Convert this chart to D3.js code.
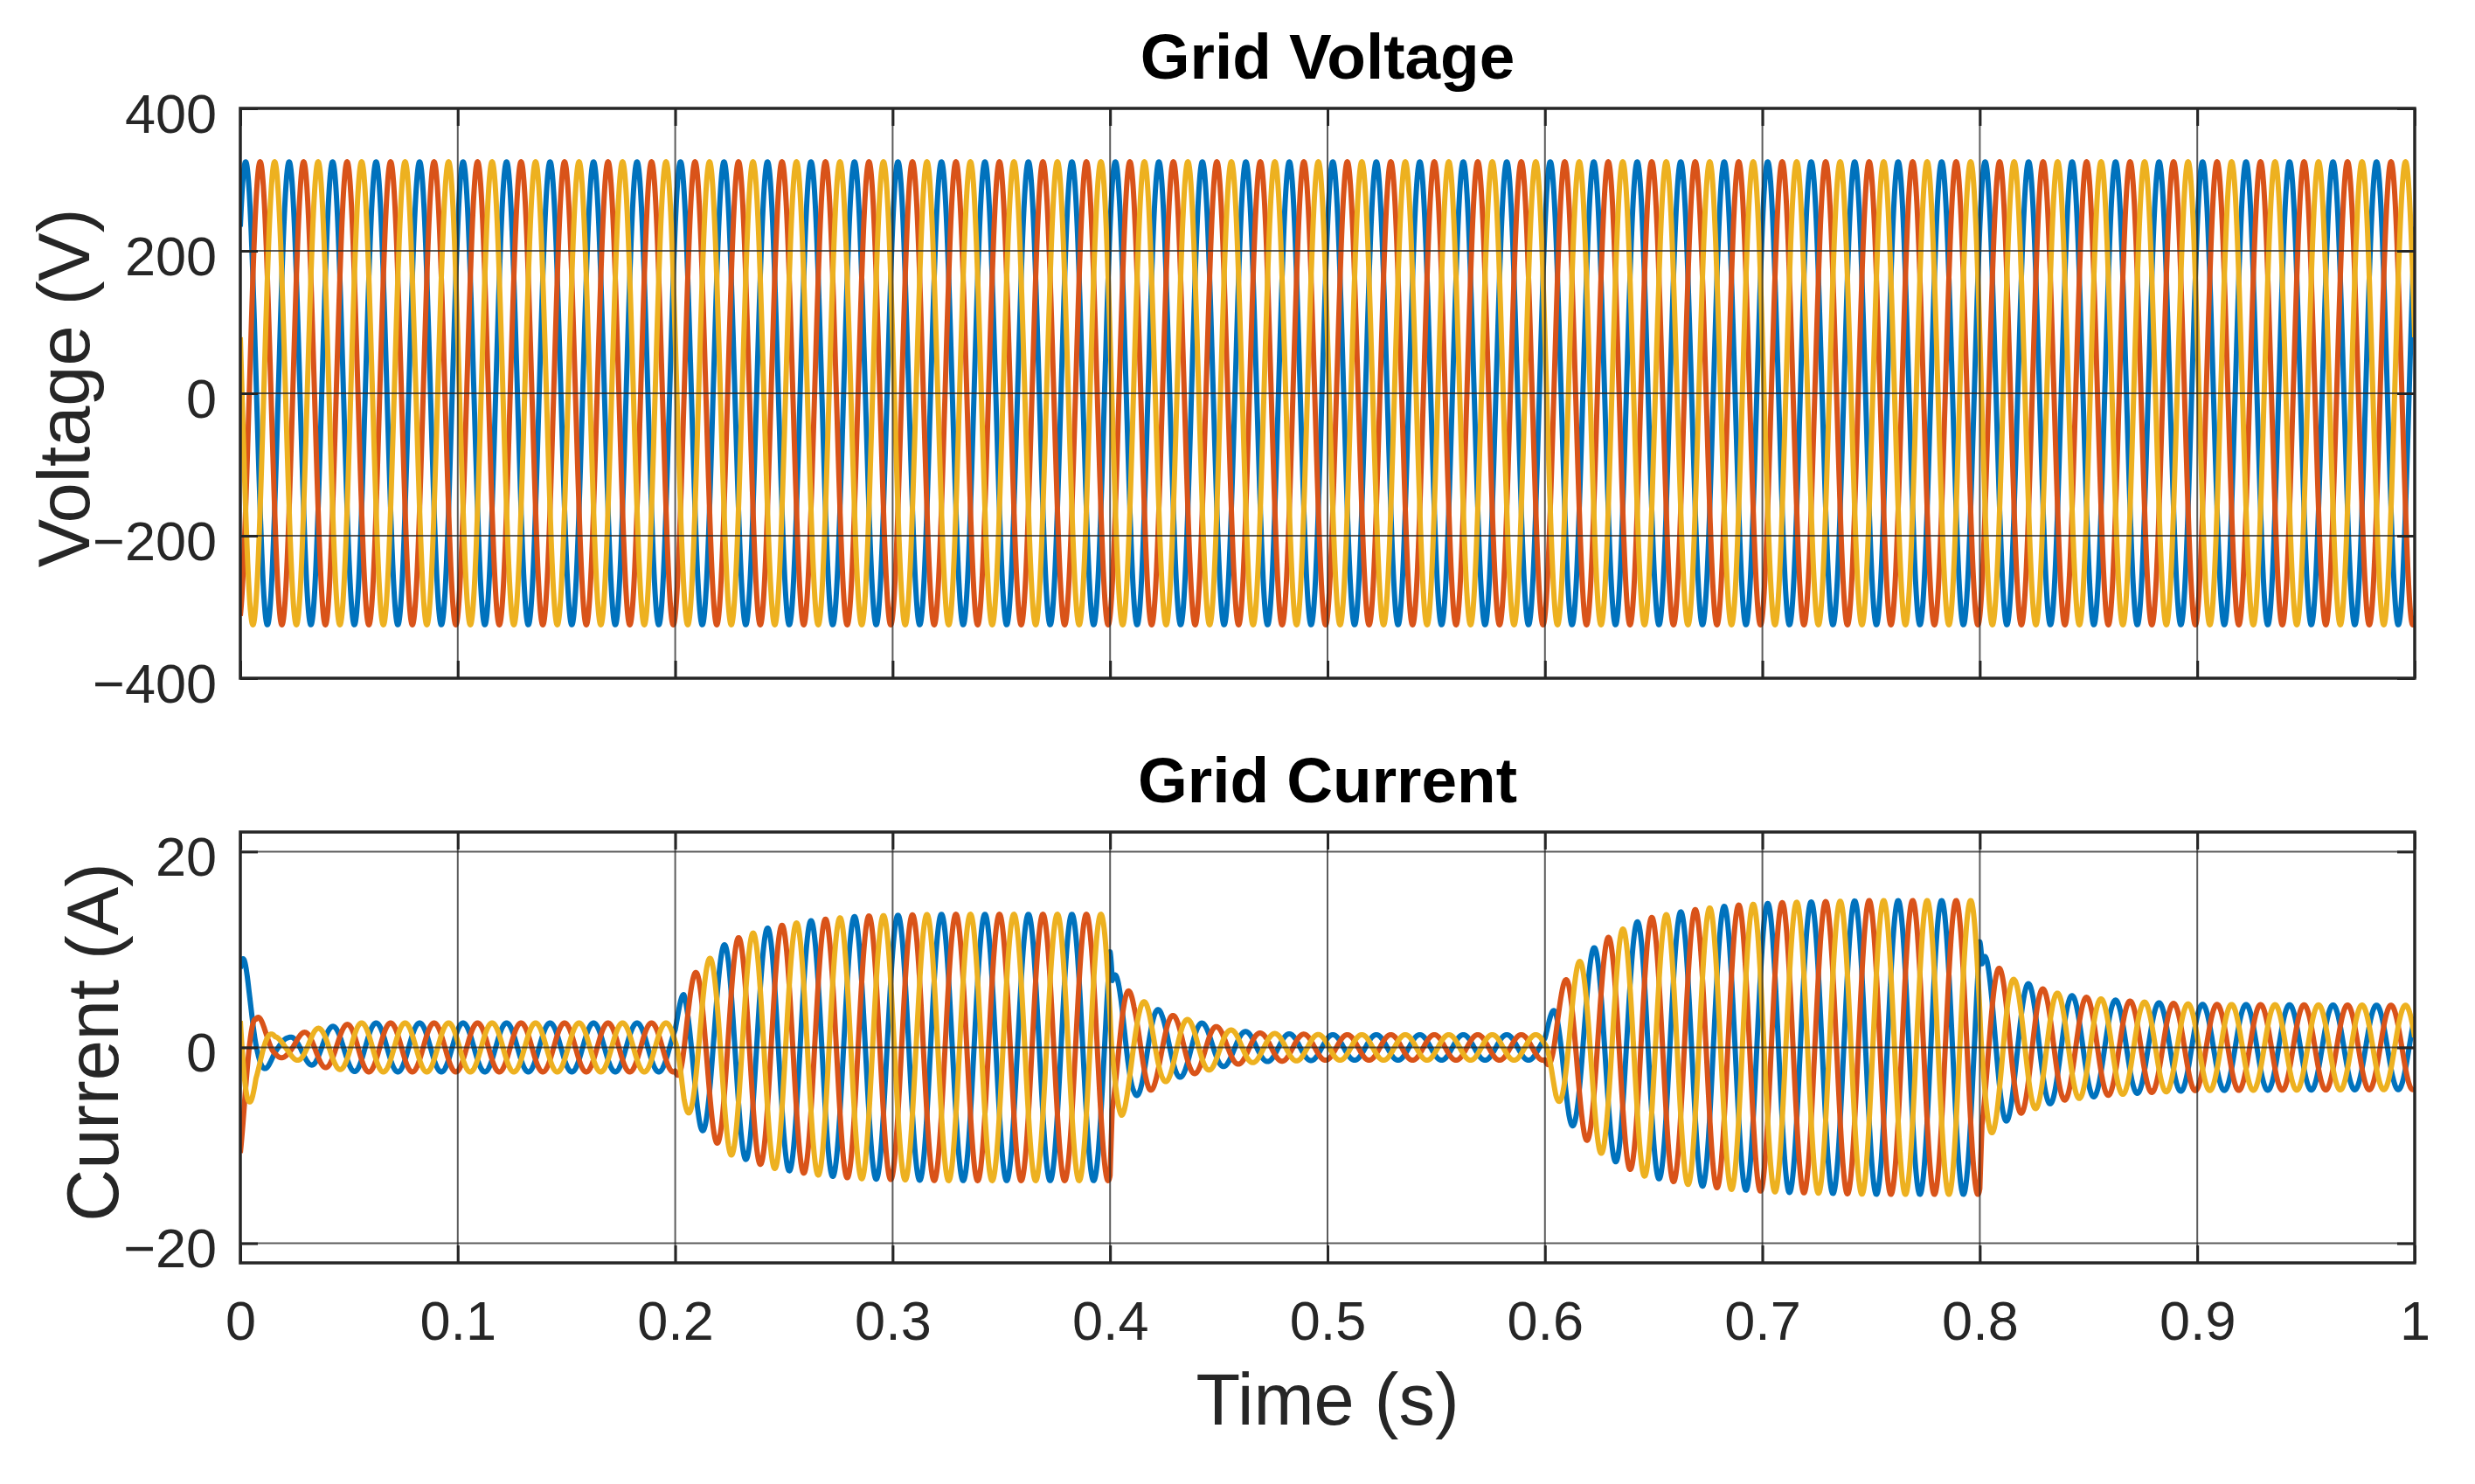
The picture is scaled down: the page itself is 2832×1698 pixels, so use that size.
<!DOCTYPE html>
<html>
<head>
<meta charset="utf-8">
<script src="https://cdn.jsdelivr.net/npm/d3@7"></script>
<style>
  body { margin: 0; background: #fff; }
</style>
</head>
<body>
<div id="chart"></div>
<script>
var width = 2832, height = 1698;
var fontFamily = "'Liberation Sans', Arial, Helvetica, sans-serif";

// shared time axis
var timeTicks = [0, 0.1, 0.2, 0.3, 0.4, 0.5, 0.6, 0.7, 0.8, 0.9, 1];
var timeTickLabels = ["0", "0.1", "0.2", "0.3", "0.4", "0.5", "0.6", "0.7", "0.8", "0.9", "1"];

// three phases a, b, c at 50 Hz
var gridFreq = 50;
var phaseNames = ["a", "b", "c"];
var phaseShiftDeg = [-44, -164, 76];
var phaseColors = ["#0072BD", "#D95319", "#EDB120"];

// grid voltage peak (V) over time
var voltEnvT = [0, 1];
var voltEnvA = [325, 325];
var voltTicks = [-400, -200, 0, 200, 400];
var voltTickLabels = ["\u2212400", "\u2212200", "0", "200", "400"];

// grid current peak (A) over time
var currEnvT = [0, 0.004, 0.0072, 0.0113, 0.016, 0.022, 0.034, 0.054, 0.08, 0.2,
  0.204, 0.2115, 0.2175, 0.2245, 0.232, 0.244, 0.264, 0.284, 0.32, 0.4,
  0.401, 0.4053, 0.411, 0.418, 0.424, 0.433, 0.444, 0.455, 0.47, 0.5, 0.6,
  0.605, 0.611, 0.615, 0.625, 0.635, 0.645, 0.666, 0.686, 0.71, 0.75, 0.8,
  0.801, 0.8036, 0.81, 0.816, 0.8225, 0.83, 0.838, 0.858, 0.878, 0.9, 1.0];
var currEnvA = [11.2, 6.5, 3.5, 2.3, 1.1, 1.0, 1.9, 2.5, 2.5, 2.5,
  6.1, 8.3, 9.4, 10.9, 11.4, 12.3, 13.0, 13.4, 13.6, 13.6,
  7.6, 7.0, 5.0, 4.5, 3.6, 3.0, 2.4, 1.8, 1.45, 1.3, 1.3,
  5.0, 7.6, 8.6, 10.7, 12.0, 13.1, 14.0, 14.5, 14.8, 15.0, 15.0,
  9.5, 9.1, 7.9, 6.9, 6.5, 5.9, 5.4, 4.9, 4.6, 4.4, 4.3];
var currTicks = [-20, 0, 20];
var currTickLabels = ["\u221220", "0", "20"];

var plotLeft = 275, plotRight = 2763;
var sampleStep = 0.0001;

var panels = [
  { title: "Grid Voltage", ylabel: "Voltage (V)", top: 124, bottom: 776, domain: [-400, 400],
    ticks: voltTicks, tickLabels: voltTickLabels, envT: voltEnvT, envA: voltEnvA, labelX: 102, showX: false },
  { title: "Grid Current", ylabel: "Current (A)", top: 952, bottom: 1445, domain: [-22, 22],
    ticks: currTicks, tickLabels: currTickLabels, envT: currEnvT, envA: currEnvA, labelX: 135, showX: true }
];

var svg = d3.select("#chart")
    .append("svg")
    .attr("width", width)
    .attr("height", height);

var x = d3.scaleLinear().domain([0, 1]).range([plotLeft, plotRight]);

// builds the waveform of one phase from the envelope
function phaseSeries(panel, k) {
  var env = d3.scaleLinear().domain(panel.envT).range(panel.envA).clamp(true);
  var shift = phaseShiftDeg[k] * Math.PI / 180;
  var n = Math.round(1 / sampleStep);
  return d3.range(n + 1).map(function(i) {
    var t = i * sampleStep;
    return { t: t, v: env(t) * Math.cos(2 * Math.PI * gridFreq * t + shift) };
  });
}

panels.forEach(function(p, pi) {
  var y = d3.scaleLinear().domain(p.domain).range([p.bottom, p.top]);

  svg.append("clipPath")
      .attr("id", "clip" + pi)
    .append("rect")
      .attr("x", plotLeft)
      .attr("y", p.top)
      .attr("width", plotRight - plotLeft)
      .attr("height", p.bottom - p.top);

  var line = d3.line()
      .x(function(d) { return x(d.t); })
      .y(function(d) { return y(d.v); });

  var g = svg.append("g").attr("clip-path", "url(#clip" + pi + ")");

  phaseNames.forEach(function(name, k) {
    g.append("path")
        .datum(phaseSeries(p, k))
        .attr("class", "phase-" + name)
        .attr("fill", "none")
        .attr("stroke", phaseColors[k])
        .attr("stroke-width", 6)
        .attr("stroke-linejoin", "round")
        .attr("d", line);
  });

  // grid, drawn over the traces as in the source
  var grid = svg.append("g")
      .attr("stroke", "#262626")
      .attr("stroke-opacity", 0.75)
      .attr("stroke-width", 2);
  grid.selectAll(".vgrid")
      .data(timeTicks)
      .enter().append("line")
      .attr("x1", function(d) { return x(d); })
      .attr("x2", function(d) { return x(d); })
      .attr("y1", p.top)
      .attr("y2", p.bottom);
  grid.selectAll(".hgrid")
      .data(p.ticks)
      .enter().append("line")
      .attr("x1", plotLeft)
      .attr("x2", plotRight)
      .attr("y1", function(d) { return y(d); })
      .attr("y2", function(d) { return y(d); });

  // axes with inward ticks on all four sides
  var xAxis = d3.axisBottom(x)
      .tickValues(timeTicks)
      .tickSize(-20)
      .tickSizeOuter(0)
      .tickPadding(43)
      .tickFormat(function(d, i) { return p.showX ? timeTickLabels[i] : ""; });
  var yAxis = d3.axisLeft(y)
      .tickValues(p.ticks)
      .tickSize(-20)
      .tickSizeOuter(0)
      .tickPadding(27)
      .tickFormat(function(d, i) { return p.tickLabels[i]; });

  var axes = [
    svg.append("g").attr("transform", "translate(0," + p.bottom + ")").call(xAxis),
    svg.append("g").attr("transform", "translate(0," + p.top + ")")
        .call(d3.axisTop(x).tickValues(timeTicks).tickSize(-20).tickSizeOuter(0).tickFormat("")),
    svg.append("g").attr("transform", "translate(" + plotLeft + ",0)").call(yAxis),
    svg.append("g").attr("transform", "translate(" + plotRight + ",0)")
        .call(d3.axisRight(y).tickValues(p.ticks).tickSize(-20).tickSizeOuter(0).tickFormat(""))
  ];
  axes.forEach(function(a) {
    a.attr("font-family", fontFamily).attr("font-size", 63);
    a.select(".domain").remove();
    a.selectAll(".tick line").attr("stroke", "#262626").attr("stroke-width", 3);
    a.selectAll(".tick text").attr("fill", "#262626");
  });
  axes[2].selectAll(".tick text").attr("dy", "0.43em");

  svg.append("rect")
      .attr("x", plotLeft)
      .attr("y", p.top)
      .attr("width", plotRight - plotLeft)
      .attr("height", p.bottom - p.top)
      .attr("fill", "none")
      .attr("stroke", "#262626")
      .attr("stroke-width", 3.5);

  svg.append("text")
      .attr("x", (plotLeft + plotRight) / 2)
      .attr("y", p.top - 34)
      .attr("text-anchor", "middle")
      .attr("font-family", fontFamily)
      .attr("font-size", 73)
      .attr("font-weight", "bold")
      .attr("fill", "#000")
      .text(p.title);

  svg.append("text")
      .attr("transform", "translate(" + p.labelX + "," + ((p.top + p.bottom) / 2 - 6) + ") rotate(-90)")
      .attr("text-anchor", "middle")
      .attr("font-family", fontFamily)
      .attr("font-size", 83)
      .attr("fill", "#262626")
      .text(p.ylabel);
});

svg.append("text")
    .attr("x", (plotLeft + plotRight) / 2)
    .attr("y", 1630)
    .attr("text-anchor", "middle")
    .attr("font-family", fontFamily)
    .attr("font-size", 83)
    .attr("fill", "#262626")
    .text("Time (s)");
</script>
</body>
</html>
